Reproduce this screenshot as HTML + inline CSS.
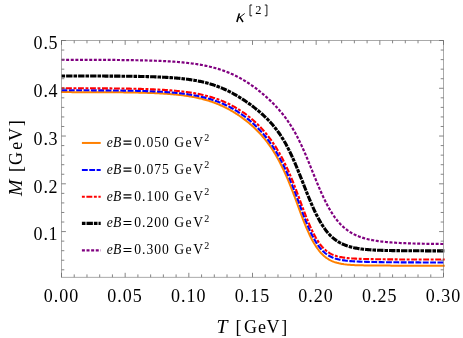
<!DOCTYPE html>
<html><head><meta charset="utf-8"><title>plot</title>
<style>
html,body{margin:0;padding:0;background:#fff;}
svg{display:block;will-change:transform;}
text{font-family:"Liberation Serif",serif;fill:#000;}
</style></head><body>
<svg width="463" height="338" viewBox="0 0 463 338">
<rect width="463" height="338" fill="#fff"/>
<clipPath id="c"><rect x="61.0" y="40.5" width="383.9" height="236.7"/></clipPath>
<g fill="none" clip-path="url(#c)">
<path d="M61.0,92.11 L62.0,92.11 L63.0,92.11 L64.0,92.12 L65.0,92.12 L66.0,92.12 L67.0,92.12 L68.0,92.12 L69.0,92.12 L70.0,92.12 L71.0,92.12 L72.0,92.13 L73.0,92.13 L74.0,92.13 L75.0,92.13 L76.0,92.13 L77.0,92.13 L78.0,92.13 L79.0,92.14 L80.0,92.14 L81.0,92.14 L82.0,92.14 L83.0,92.14 L84.0,92.15 L85.0,92.15 L86.0,92.15 L87.0,92.15 L88.0,92.16 L89.0,92.16 L90.0,92.16 L91.0,92.16 L92.0,92.17 L93.0,92.17 L94.0,92.17 L95.0,92.18 L96.0,92.18 L97.0,92.19 L98.0,92.19 L99.0,92.19 L100.0,92.20 L101.0,92.20 L102.0,92.21 L103.0,92.21 L104.0,92.22 L105.0,92.22 L106.0,92.23 L107.0,92.23 L108.0,92.24 L109.0,92.25 L110.0,92.25 L111.0,92.26 L112.0,92.27 L113.0,92.28 L114.0,92.28 L115.0,92.29 L116.0,92.30 L117.0,92.31 L118.0,92.32 L119.0,92.33 L120.0,92.34 L121.0,92.35 L122.0,92.36 L123.0,92.37 L124.0,92.38 L125.0,92.40 L126.0,92.41 L127.0,92.42 L128.0,92.44 L129.0,92.45 L130.0,92.47 L131.0,92.48 L132.0,92.50 L133.0,92.52 L134.0,92.54 L135.0,92.55 L136.0,92.57 L137.0,92.59 L138.0,92.62 L139.0,92.64 L140.0,92.66 L141.0,92.69 L142.0,92.71 L143.0,92.74 L144.0,92.77 L145.0,92.80 L146.0,92.83 L147.0,92.86 L148.0,92.89 L149.0,92.92 L150.0,92.96 L151.0,93.00 L152.0,93.03 L153.0,93.08 L154.0,93.12 L155.0,93.16 L156.0,93.21 L157.0,93.25 L158.0,93.30 L159.0,93.35 L160.0,93.41 L161.0,93.46 L162.0,93.52 L163.0,93.58 L164.0,93.64 L165.0,93.71 L166.0,93.77 L167.0,93.84 L168.0,93.91 L169.0,93.99 L170.0,94.06 L171.0,94.14 L172.0,94.22 L173.0,94.31 L174.0,94.40 L175.0,94.49 L176.0,94.59 L177.0,94.69 L178.0,94.79 L179.0,94.90 L180.0,95.01 L181.0,95.13 L182.0,95.25 L183.0,95.38 L184.0,95.51 L185.0,95.64 L186.0,95.79 L187.0,95.93 L188.0,96.08 L189.0,96.24 L190.0,96.41 L191.0,96.58 L192.0,96.75 L193.0,96.93 L194.0,97.12 L195.0,97.32 L196.0,97.52 L197.0,97.73 L198.0,97.95 L199.0,98.18 L200.0,98.41 L201.0,98.65 L202.0,98.90 L203.0,99.16 L204.0,99.43 L205.0,99.71 L206.0,99.99 L207.0,100.29 L208.0,100.59 L209.0,100.90 L210.0,101.23 L211.0,101.56 L212.0,101.90 L213.0,102.26 L214.0,102.62 L215.0,103.00 L216.0,103.38 L217.0,103.78 L218.0,104.19 L219.0,104.60 L220.0,105.03 L221.0,105.48 L222.0,105.93 L223.0,106.39 L224.0,106.87 L225.0,107.36 L226.0,107.86 L227.0,108.38 L228.0,108.90 L229.0,109.44 L230.0,109.99 L231.0,110.56 L232.0,111.13 L233.0,111.72 L234.0,112.32 L235.0,112.94 L236.0,113.57 L237.0,114.21 L238.0,114.87 L239.0,115.54 L240.0,116.22 L241.0,116.92 L242.0,117.64 L243.0,118.37 L244.0,119.11 L245.0,119.87 L246.0,120.65 L247.0,121.44 L248.0,122.25 L249.0,123.08 L250.0,123.93 L251.0,124.80 L252.0,125.68 L253.0,126.59 L254.0,127.52 L255.0,128.47 L256.0,129.44 L257.0,130.44 L258.0,131.46 L259.0,132.51 L260.0,133.58 L261.0,134.69 L262.0,135.82 L263.0,136.98 L264.0,138.17 L265.0,139.40 L266.0,140.66 L267.0,141.96 L268.0,143.29 L269.0,144.66 L270.0,146.07 L271.0,147.53 L272.0,149.02 L273.0,150.57 L274.0,152.15 L275.0,153.79 L276.0,155.48 L277.0,157.21 L278.0,159.00 L279.0,160.84 L280.0,162.74 L281.0,164.69 L282.0,166.70 L283.0,168.77 L284.0,170.89 L285.0,173.07 L286.0,175.31 L287.0,177.60 L288.0,179.95 L289.0,182.36 L290.0,184.82 L291.0,187.32 L292.0,189.88 L293.0,192.47 L294.0,195.10 L295.0,197.77 L296.0,200.46 L297.0,203.17 L298.0,205.89 L299.0,208.62 L300.0,211.34 L301.0,214.04 L302.0,216.69 L303.0,219.30 L304.0,221.85 L305.0,224.34 L306.0,226.77 L307.0,229.12 L308.0,231.41 L309.0,233.62 L310.0,235.73 L311.0,237.75 L312.0,239.66 L313.0,241.47 L314.0,243.20 L315.0,244.84 L316.0,246.40 L317.0,247.88 L318.0,249.28 L319.0,250.61 L320.0,251.84 L321.0,253.00 L322.0,254.07 L323.0,255.06 L324.0,255.97 L325.0,256.81 L326.0,257.58 L327.0,258.29 L328.0,258.95 L329.0,259.55 L330.0,260.11 L331.0,260.61 L332.0,261.07 L333.0,261.49 L334.0,261.87 L335.0,262.21 L336.0,262.52 L337.0,262.81 L338.0,263.07 L339.0,263.32 L340.0,263.54 L341.0,263.74 L342.0,263.93 L343.0,264.09 L344.0,264.25 L345.0,264.38 L346.0,264.51 L347.0,264.62 L348.0,264.71 L349.0,264.80 L350.0,264.87 L351.0,264.93 L352.0,264.99 L353.0,265.04 L354.0,265.09 L355.0,265.13 L356.0,265.17 L357.0,265.21 L358.0,265.24 L359.0,265.27 L360.0,265.30 L361.0,265.33 L362.0,265.35 L363.0,265.37 L364.0,265.39 L365.0,265.41 L366.0,265.43 L367.0,265.44 L368.0,265.46 L369.0,265.47 L370.0,265.48 L371.0,265.49 L372.0,265.51 L373.0,265.52 L374.0,265.53 L375.0,265.54 L376.0,265.54 L377.0,265.55 L378.0,265.56 L379.0,265.57 L380.0,265.57 L381.0,265.58 L382.0,265.58 L383.0,265.59 L384.0,265.60 L385.0,265.60 L386.0,265.61 L387.0,265.61 L388.0,265.61 L389.0,265.62 L390.0,265.62 L391.0,265.63 L392.0,265.63 L393.0,265.63 L394.0,265.64 L395.0,265.64 L396.0,265.64 L397.0,265.64 L398.0,265.65 L399.0,265.65 L400.0,265.65 L401.0,265.65 L402.0,265.66 L403.0,265.66 L404.0,265.66 L405.0,265.66 L406.0,265.67 L407.0,265.67 L408.0,265.67 L409.0,265.67 L410.0,265.67 L411.0,265.67 L412.0,265.68 L413.0,265.68 L414.0,265.68 L415.0,265.68 L416.0,265.68 L417.0,265.68 L418.0,265.68 L419.0,265.68 L420.0,265.68 L421.0,265.69 L422.0,265.69 L423.0,265.69 L424.0,265.69 L425.0,265.69 L426.0,265.69 L427.0,265.69 L428.0,265.69 L429.0,265.69 L430.0,265.69 L431.0,265.69 L432.0,265.69 L433.0,265.69 L434.0,265.69 L435.0,265.69 L436.0,265.70 L437.0,265.70 L438.0,265.70 L439.0,265.70 L440.0,265.70 L441.0,265.70 L442.0,265.70 L443.0,265.70 L444.0,265.70 L444.8,265.70" stroke="#ff8000" stroke-width="2.00"/>
<path d="M61.0,90.25 L62.0,90.25 L63.0,90.25 L64.0,90.25 L65.0,90.25 L66.0,90.25 L67.0,90.26 L68.0,90.26 L69.0,90.26 L70.0,90.26 L71.0,90.26 L72.0,90.27 L73.0,90.27 L74.0,90.27 L75.0,90.27 L76.0,90.27 L77.0,90.28 L78.0,90.28 L79.0,90.28 L80.0,90.28 L81.0,90.29 L82.0,90.29 L83.0,90.29 L84.0,90.30 L85.0,90.30 L86.0,90.30 L87.0,90.31 L88.0,90.31 L89.0,90.31 L90.0,90.32 L91.0,90.32 L92.0,90.33 L93.0,90.33 L94.0,90.34 L95.0,90.34 L96.0,90.34 L97.0,90.35 L98.0,90.36 L99.0,90.36 L100.0,90.37 L101.0,90.37 L102.0,90.38 L103.0,90.39 L104.0,90.39 L105.0,90.40 L106.0,90.41 L107.0,90.41 L108.0,90.42 L109.0,90.43 L110.0,90.44 L111.0,90.45 L112.0,90.46 L113.0,90.47 L114.0,90.47 L115.0,90.49 L116.0,90.50 L117.0,90.51 L118.0,90.52 L119.0,90.53 L120.0,90.54 L121.0,90.55 L122.0,90.57 L123.0,90.58 L124.0,90.60 L125.0,90.61 L126.0,90.63 L127.0,90.64 L128.0,90.66 L129.0,90.68 L130.0,90.69 L131.0,90.71 L132.0,90.73 L133.0,90.75 L134.0,90.77 L135.0,90.79 L136.0,90.82 L137.0,90.84 L138.0,90.86 L139.0,90.89 L140.0,90.92 L141.0,90.94 L142.0,90.97 L143.0,91.00 L144.0,91.03 L145.0,91.06 L146.0,91.10 L147.0,91.13 L148.0,91.16 L149.0,91.20 L150.0,91.24 L151.0,91.28 L152.0,91.32 L153.0,91.36 L154.0,91.41 L155.0,91.45 L156.0,91.50 L157.0,91.55 L158.0,91.60 L159.0,91.65 L160.0,91.71 L161.0,91.76 L162.0,91.82 L163.0,91.88 L164.0,91.95 L165.0,92.01 L166.0,92.08 L167.0,92.15 L168.0,92.22 L169.0,92.29 L170.0,92.37 L171.0,92.44 L172.0,92.53 L173.0,92.61 L174.0,92.70 L175.0,92.79 L176.0,92.88 L177.0,92.98 L178.0,93.08 L179.0,93.18 L180.0,93.29 L181.0,93.40 L182.0,93.52 L183.0,93.64 L184.0,93.76 L185.0,93.89 L186.0,94.02 L187.0,94.16 L188.0,94.30 L189.0,94.45 L190.0,94.60 L191.0,94.76 L192.0,94.92 L193.0,95.09 L194.0,95.27 L195.0,95.45 L196.0,95.64 L197.0,95.83 L198.0,96.03 L199.0,96.24 L200.0,96.46 L201.0,96.68 L202.0,96.91 L203.0,97.15 L204.0,97.39 L205.0,97.64 L206.0,97.90 L207.0,98.17 L208.0,98.45 L209.0,98.74 L210.0,99.03 L211.0,99.34 L212.0,99.65 L213.0,99.98 L214.0,100.31 L215.0,100.66 L216.0,101.01 L217.0,101.38 L218.0,101.76 L219.0,102.14 L220.0,102.54 L221.0,102.95 L222.0,103.37 L223.0,103.81 L224.0,104.25 L225.0,104.71 L226.0,105.18 L227.0,105.66 L228.0,106.16 L229.0,106.67 L230.0,107.19 L231.0,107.73 L232.0,108.27 L233.0,108.84 L234.0,109.42 L235.0,110.01 L236.0,110.61 L237.0,111.23 L238.0,111.87 L239.0,112.52 L240.0,113.18 L241.0,113.87 L242.0,114.56 L243.0,115.28 L244.0,116.01 L245.0,116.76 L246.0,117.52 L247.0,118.30 L248.0,119.11 L249.0,119.93 L250.0,120.76 L251.0,121.62 L252.0,122.50 L253.0,123.40 L254.0,124.32 L255.0,125.26 L256.0,126.23 L257.0,127.21 L258.0,128.23 L259.0,129.26 L260.0,130.32 L261.0,131.41 L262.0,132.52 L263.0,133.67 L264.0,134.84 L265.0,136.04 L266.0,137.28 L267.0,138.54 L268.0,139.84 L269.0,141.18 L270.0,142.55 L271.0,143.96 L272.0,145.40 L273.0,146.89 L274.0,148.42 L275.0,149.99 L276.0,151.61 L277.0,153.27 L278.0,154.98 L279.0,156.74 L280.0,158.55 L281.0,160.42 L282.0,162.33 L283.0,164.30 L284.0,166.33 L285.0,168.41 L286.0,170.55 L287.0,172.74 L288.0,174.99 L289.0,177.30 L290.0,179.66 L291.0,182.08 L292.0,184.55 L293.0,187.07 L294.0,189.63 L295.0,192.24 L296.0,194.88 L297.0,197.56 L298.0,200.26 L299.0,202.97 L300.0,205.70 L301.0,208.42 L302.0,211.11 L303.0,213.76 L304.0,216.37 L305.0,218.94 L306.0,221.45 L307.0,223.90 L308.0,226.28 L309.0,228.59 L310.0,230.81 L311.0,232.93 L312.0,234.95 L313.0,236.87 L314.0,238.69 L315.0,240.42 L316.0,242.07 L317.0,243.63 L318.0,245.11 L319.0,246.50 L320.0,247.80 L321.0,249.00 L322.0,250.12 L323.0,251.15 L324.0,252.09 L325.0,252.95 L326.0,253.74 L327.0,254.46 L328.0,255.13 L329.0,255.74 L330.0,256.30 L331.0,256.81 L332.0,257.27 L333.0,257.68 L334.0,258.06 L335.0,258.40 L336.0,258.71 L337.0,258.99 L338.0,259.25 L339.0,259.49 L340.0,259.71 L341.0,259.91 L342.0,260.09 L343.0,260.26 L344.0,260.41 L345.0,260.55 L346.0,260.68 L347.0,260.80 L348.0,260.90 L349.0,261.00 L350.0,261.08 L351.0,261.16 L352.0,261.23 L353.0,261.29 L354.0,261.35 L355.0,261.41 L356.0,261.46 L357.0,261.51 L358.0,261.56 L359.0,261.60 L360.0,261.65 L361.0,261.68 L362.0,261.72 L363.0,261.75 L364.0,261.79 L365.0,261.82 L366.0,261.85 L367.0,261.87 L368.0,261.90 L369.0,261.93 L370.0,261.95 L371.0,261.97 L372.0,261.99 L373.0,262.01 L374.0,262.03 L375.0,262.05 L376.0,262.07 L377.0,262.09 L378.0,262.10 L379.0,262.12 L380.0,262.13 L381.0,262.15 L382.0,262.16 L383.0,262.18 L384.0,262.19 L385.0,262.20 L386.0,262.21 L387.0,262.22 L388.0,262.23 L389.0,262.24 L390.0,262.25 L391.0,262.26 L392.0,262.27 L393.0,262.28 L394.0,262.29 L395.0,262.30 L396.0,262.31 L397.0,262.31 L398.0,262.32 L399.0,262.33 L400.0,262.33 L401.0,262.34 L402.0,262.35 L403.0,262.35 L404.0,262.36 L405.0,262.36 L406.0,262.37 L407.0,262.37 L408.0,262.38 L409.0,262.38 L410.0,262.39 L411.0,262.39 L412.0,262.40 L413.0,262.40 L414.0,262.41 L415.0,262.41 L416.0,262.41 L417.0,262.42 L418.0,262.42 L419.0,262.42 L420.0,262.43 L421.0,262.43 L422.0,262.43 L423.0,262.43 L424.0,262.44 L425.0,262.44 L426.0,262.44 L427.0,262.44 L428.0,262.45 L429.0,262.45 L430.0,262.45 L431.0,262.45 L432.0,262.46 L433.0,262.46 L434.0,262.46 L435.0,262.46 L436.0,262.46 L437.0,262.46 L438.0,262.47 L439.0,262.47 L440.0,262.47 L441.0,262.47 L442.0,262.47 L443.0,262.47 L444.0,262.47 L444.8,262.48" stroke="#0000ff" stroke-width="2.10" stroke-dasharray="5.85 1.5" stroke-dashoffset="6.85"/>
<path d="M61.0,88.22 L62.0,88.22 L63.0,88.22 L64.0,88.22 L65.0,88.22 L66.0,88.23 L67.0,88.23 L68.0,88.23 L69.0,88.23 L70.0,88.23 L71.0,88.23 L72.0,88.24 L73.0,88.24 L74.0,88.24 L75.0,88.24 L76.0,88.25 L77.0,88.25 L78.0,88.25 L79.0,88.25 L80.0,88.26 L81.0,88.26 L82.0,88.26 L83.0,88.26 L84.0,88.27 L85.0,88.27 L86.0,88.27 L87.0,88.28 L88.0,88.28 L89.0,88.29 L90.0,88.29 L91.0,88.29 L92.0,88.30 L93.0,88.30 L94.0,88.31 L95.0,88.31 L96.0,88.32 L97.0,88.32 L98.0,88.33 L99.0,88.33 L100.0,88.34 L101.0,88.35 L102.0,88.35 L103.0,88.36 L104.0,88.37 L105.0,88.37 L106.0,88.38 L107.0,88.39 L108.0,88.39 L109.0,88.40 L110.0,88.41 L111.0,88.42 L112.0,88.43 L113.0,88.44 L114.0,88.45 L115.0,88.46 L116.0,88.47 L117.0,88.48 L118.0,88.49 L119.0,88.50 L120.0,88.52 L121.0,88.53 L122.0,88.54 L123.0,88.56 L124.0,88.57 L125.0,88.59 L126.0,88.60 L127.0,88.62 L128.0,88.63 L129.0,88.65 L130.0,88.67 L131.0,88.69 L132.0,88.71 L133.0,88.73 L134.0,88.75 L135.0,88.77 L136.0,88.79 L137.0,88.82 L138.0,88.84 L139.0,88.87 L140.0,88.89 L141.0,88.92 L142.0,88.95 L143.0,88.98 L144.0,89.01 L145.0,89.04 L146.0,89.07 L147.0,89.11 L148.0,89.14 L149.0,89.18 L150.0,89.22 L151.0,89.25 L152.0,89.30 L153.0,89.34 L154.0,89.38 L155.0,89.43 L156.0,89.47 L157.0,89.52 L158.0,89.57 L159.0,89.63 L160.0,89.68 L161.0,89.74 L162.0,89.79 L163.0,89.85 L164.0,89.92 L165.0,89.98 L166.0,90.04 L167.0,90.11 L168.0,90.18 L169.0,90.25 L170.0,90.33 L171.0,90.40 L172.0,90.48 L173.0,90.56 L174.0,90.65 L175.0,90.73 L176.0,90.82 L177.0,90.92 L178.0,91.02 L179.0,91.12 L180.0,91.22 L181.0,91.33 L182.0,91.44 L183.0,91.55 L184.0,91.67 L185.0,91.80 L186.0,91.92 L187.0,92.06 L188.0,92.19 L189.0,92.33 L190.0,92.48 L191.0,92.63 L192.0,92.79 L193.0,92.95 L194.0,93.12 L195.0,93.30 L196.0,93.48 L197.0,93.66 L198.0,93.86 L199.0,94.05 L200.0,94.26 L201.0,94.47 L202.0,94.69 L203.0,94.92 L204.0,95.16 L205.0,95.40 L206.0,95.65 L207.0,95.91 L208.0,96.17 L209.0,96.45 L210.0,96.73 L211.0,97.02 L212.0,97.33 L213.0,97.64 L214.0,97.96 L215.0,98.29 L216.0,98.63 L217.0,98.97 L218.0,99.33 L219.0,99.71 L220.0,100.09 L221.0,100.48 L222.0,100.88 L223.0,101.30 L224.0,101.72 L225.0,102.16 L226.0,102.61 L227.0,103.07 L228.0,103.55 L229.0,104.03 L230.0,104.53 L231.0,105.05 L232.0,105.57 L233.0,106.11 L234.0,106.66 L235.0,107.23 L236.0,107.81 L237.0,108.40 L238.0,109.01 L239.0,109.63 L240.0,110.27 L241.0,110.92 L242.0,111.59 L243.0,112.27 L244.0,112.98 L245.0,113.69 L246.0,114.43 L247.0,115.18 L248.0,115.95 L249.0,116.73 L250.0,117.54 L251.0,118.36 L252.0,119.21 L253.0,120.07 L254.0,120.96 L255.0,121.87 L256.0,122.80 L257.0,123.75 L258.0,124.73 L259.0,125.73 L260.0,126.75 L261.0,127.80 L262.0,128.88 L263.0,129.99 L264.0,131.12 L265.0,132.29 L266.0,133.48 L267.0,134.71 L268.0,135.97 L269.0,137.27 L270.0,138.60 L271.0,139.96 L272.0,141.37 L273.0,142.81 L274.0,144.30 L275.0,145.83 L276.0,147.40 L277.0,149.02 L278.0,150.68 L279.0,152.39 L280.0,154.15 L281.0,155.97 L282.0,157.83 L283.0,159.75 L284.0,161.72 L285.0,163.74 L286.0,165.82 L287.0,167.96 L288.0,170.15 L289.0,172.40 L290.0,174.71 L291.0,177.07 L292.0,179.49 L293.0,181.95 L294.0,184.47 L295.0,187.03 L296.0,189.63 L297.0,192.27 L298.0,194.95 L299.0,197.65 L300.0,200.37 L301.0,203.08 L302.0,205.78 L303.0,208.46 L304.0,211.10 L305.0,213.71 L306.0,216.28 L307.0,218.80 L308.0,221.27 L309.0,223.67 L310.0,225.99 L311.0,228.22 L312.0,230.35 L313.0,232.38 L314.0,234.32 L315.0,236.17 L316.0,237.94 L317.0,239.62 L318.0,241.21 L319.0,242.70 L320.0,244.10 L321.0,245.40 L322.0,246.61 L323.0,247.72 L324.0,248.73 L325.0,249.66 L326.0,250.52 L327.0,251.31 L328.0,252.03 L329.0,252.70 L330.0,253.30 L331.0,253.85 L332.0,254.35 L333.0,254.79 L334.0,255.19 L335.0,255.55 L336.0,255.88 L337.0,256.18 L338.0,256.45 L339.0,256.70 L340.0,256.93 L341.0,257.14 L342.0,257.33 L343.0,257.50 L344.0,257.65 L345.0,257.79 L346.0,257.92 L347.0,258.04 L348.0,258.14 L349.0,258.23 L350.0,258.31 L351.0,258.38 L352.0,258.45 L353.0,258.51 L354.0,258.57 L355.0,258.62 L356.0,258.67 L357.0,258.71 L358.0,258.76 L359.0,258.80 L360.0,258.83 L361.0,258.87 L362.0,258.90 L363.0,258.93 L364.0,258.96 L365.0,258.99 L366.0,259.01 L367.0,259.03 L368.0,259.06 L369.0,259.08 L370.0,259.10 L371.0,259.12 L372.0,259.14 L373.0,259.16 L374.0,259.17 L375.0,259.19 L376.0,259.20 L377.0,259.22 L378.0,259.23 L379.0,259.25 L380.0,259.26 L381.0,259.27 L382.0,259.28 L383.0,259.29 L384.0,259.30 L385.0,259.32 L386.0,259.33 L387.0,259.34 L388.0,259.34 L389.0,259.35 L390.0,259.36 L391.0,259.37 L392.0,259.38 L393.0,259.39 L394.0,259.39 L395.0,259.40 L396.0,259.41 L397.0,259.41 L398.0,259.42 L399.0,259.43 L400.0,259.43 L401.0,259.44 L402.0,259.44 L403.0,259.45 L404.0,259.45 L405.0,259.46 L406.0,259.46 L407.0,259.47 L408.0,259.47 L409.0,259.48 L410.0,259.48 L411.0,259.48 L412.0,259.49 L413.0,259.49 L414.0,259.49 L415.0,259.50 L416.0,259.50 L417.0,259.50 L418.0,259.51 L419.0,259.51 L420.0,259.51 L421.0,259.52 L422.0,259.52 L423.0,259.52 L424.0,259.52 L425.0,259.52 L426.0,259.53 L427.0,259.53 L428.0,259.53 L429.0,259.53 L430.0,259.53 L431.0,259.54 L432.0,259.54 L433.0,259.54 L434.0,259.54 L435.0,259.54 L436.0,259.54 L437.0,259.55 L438.0,259.55 L439.0,259.55 L440.0,259.55 L441.0,259.55 L442.0,259.55 L443.0,259.55 L444.0,259.55 L444.8,259.55" stroke="#ff0000" stroke-width="2.10" stroke-dasharray="2.9 1.6 5.9 1.6" stroke-dashoffset="11.50"/>
<path d="M61.0,75.99 L62.0,75.99 L63.0,75.99 L64.0,75.99 L65.0,75.99 L66.0,75.99 L67.0,75.99 L68.0,76.00 L69.0,76.00 L70.0,76.00 L71.0,76.00 L72.0,76.00 L73.0,76.00 L74.0,76.00 L75.0,76.00 L76.0,76.00 L77.0,76.01 L78.0,76.01 L79.0,76.01 L80.0,76.01 L81.0,76.01 L82.0,76.01 L83.0,76.01 L84.0,76.02 L85.0,76.02 L86.0,76.02 L87.0,76.02 L88.0,76.02 L89.0,76.03 L90.0,76.03 L91.0,76.03 L92.0,76.03 L93.0,76.04 L94.0,76.04 L95.0,76.04 L96.0,76.04 L97.0,76.05 L98.0,76.05 L99.0,76.05 L100.0,76.06 L101.0,76.06 L102.0,76.07 L103.0,76.07 L104.0,76.07 L105.0,76.08 L106.0,76.08 L107.0,76.09 L108.0,76.09 L109.0,76.10 L110.0,76.10 L111.0,76.11 L112.0,76.11 L113.0,76.12 L114.0,76.13 L115.0,76.13 L116.0,76.14 L117.0,76.15 L118.0,76.16 L119.0,76.16 L120.0,76.17 L121.0,76.18 L122.0,76.19 L123.0,76.20 L124.0,76.21 L125.0,76.22 L126.0,76.23 L127.0,76.24 L128.0,76.25 L129.0,76.26 L130.0,76.28 L131.0,76.29 L132.0,76.30 L133.0,76.32 L134.0,76.33 L135.0,76.35 L136.0,76.36 L137.0,76.38 L138.0,76.40 L139.0,76.42 L140.0,76.44 L141.0,76.46 L142.0,76.48 L143.0,76.50 L144.0,76.52 L145.0,76.55 L146.0,76.57 L147.0,76.60 L148.0,76.62 L149.0,76.65 L150.0,76.68 L151.0,76.71 L152.0,76.74 L153.0,76.78 L154.0,76.81 L155.0,76.85 L156.0,76.89 L157.0,76.92 L158.0,76.97 L159.0,77.01 L160.0,77.05 L161.0,77.10 L162.0,77.15 L163.0,77.20 L164.0,77.25 L165.0,77.30 L166.0,77.36 L167.0,77.41 L168.0,77.47 L169.0,77.54 L170.0,77.60 L171.0,77.67 L172.0,77.74 L173.0,77.81 L174.0,77.89 L175.0,77.97 L176.0,78.05 L177.0,78.13 L178.0,78.22 L179.0,78.32 L180.0,78.41 L181.0,78.51 L182.0,78.62 L183.0,78.72 L184.0,78.84 L185.0,78.95 L186.0,79.08 L187.0,79.20 L188.0,79.33 L189.0,79.47 L190.0,79.61 L191.0,79.76 L192.0,79.92 L193.0,80.07 L194.0,80.24 L195.0,80.41 L196.0,80.59 L197.0,80.78 L198.0,80.97 L199.0,81.17 L200.0,81.37 L201.0,81.59 L202.0,81.81 L203.0,82.04 L204.0,82.28 L205.0,82.52 L206.0,82.78 L207.0,83.04 L208.0,83.31 L209.0,83.59 L210.0,83.89 L211.0,84.19 L212.0,84.50 L213.0,84.82 L214.0,85.15 L215.0,85.49 L216.0,85.84 L217.0,86.20 L218.0,86.57 L219.0,86.95 L220.0,87.35 L221.0,87.75 L222.0,88.17 L223.0,88.59 L224.0,89.03 L225.0,89.48 L226.0,89.94 L227.0,90.41 L228.0,90.90 L229.0,91.39 L230.0,91.90 L231.0,92.42 L232.0,92.95 L233.0,93.49 L234.0,94.04 L235.0,94.60 L236.0,95.18 L237.0,95.76 L238.0,96.36 L239.0,96.97 L240.0,97.58 L241.0,98.21 L242.0,98.85 L243.0,99.50 L244.0,100.16 L245.0,100.83 L246.0,101.51 L247.0,102.20 L248.0,102.91 L249.0,103.62 L250.0,104.34 L251.0,105.08 L252.0,105.83 L253.0,106.58 L254.0,107.36 L255.0,108.14 L256.0,108.93 L257.0,109.74 L258.0,110.56 L259.0,111.40 L260.0,112.25 L261.0,113.12 L262.0,114.00 L263.0,114.91 L264.0,115.83 L265.0,116.77 L266.0,117.73 L267.0,118.72 L268.0,119.73 L269.0,120.77 L270.0,121.84 L271.0,122.93 L272.0,124.06 L273.0,125.22 L274.0,126.42 L275.0,127.65 L276.0,128.93 L277.0,130.25 L278.0,131.61 L279.0,133.02 L280.0,134.48 L281.0,135.99 L282.0,137.55 L283.0,139.17 L284.0,140.84 L285.0,142.57 L286.0,144.36 L287.0,146.21 L288.0,148.12 L289.0,150.09 L290.0,152.12 L291.0,154.21 L292.0,156.36 L293.0,158.57 L294.0,160.83 L295.0,163.14 L296.0,165.49 L297.0,167.90 L298.0,170.34 L299.0,172.81 L300.0,175.31 L301.0,177.83 L302.0,180.37 L303.0,182.92 L304.0,185.47 L305.0,188.02 L306.0,190.55 L307.0,193.07 L308.0,195.55 L309.0,198.01 L310.0,200.43 L311.0,202.80 L312.0,205.12 L313.0,207.38 L314.0,209.59 L315.0,211.73 L316.0,213.80 L317.0,215.80 L318.0,217.73 L319.0,219.59 L320.0,221.37 L321.0,223.07 L322.0,224.70 L323.0,226.25 L324.0,227.73 L325.0,229.13 L326.0,230.46 L327.0,231.73 L328.0,232.92 L329.0,234.05 L330.0,235.11 L331.0,236.11 L332.0,237.05 L333.0,237.93 L334.0,238.77 L335.0,239.54 L336.0,240.28 L337.0,240.96 L338.0,241.60 L339.0,242.20 L340.0,242.76 L341.0,243.28 L342.0,243.77 L343.0,244.23 L344.0,244.66 L345.0,245.07 L346.0,245.44 L347.0,245.80 L348.0,246.13 L349.0,246.44 L350.0,246.73 L351.0,247.00 L352.0,247.25 L353.0,247.49 L354.0,247.72 L355.0,247.92 L356.0,248.12 L357.0,248.30 L358.0,248.47 L359.0,248.63 L360.0,248.78 L361.0,248.92 L362.0,249.05 L363.0,249.17 L364.0,249.28 L365.0,249.39 L366.0,249.49 L367.0,249.58 L368.0,249.66 L369.0,249.74 L370.0,249.81 L371.0,249.87 L372.0,249.93 L373.0,249.99 L374.0,250.04 L375.0,250.09 L376.0,250.13 L377.0,250.18 L378.0,250.22 L379.0,250.26 L380.0,250.29 L381.0,250.32 L382.0,250.36 L383.0,250.38 L384.0,250.41 L385.0,250.44 L386.0,250.46 L387.0,250.48 L388.0,250.51 L389.0,250.53 L390.0,250.55 L391.0,250.56 L392.0,250.58 L393.0,250.60 L394.0,250.61 L395.0,250.62 L396.0,250.64 L397.0,250.65 L398.0,250.66 L399.0,250.67 L400.0,250.68 L401.0,250.69 L402.0,250.70 L403.0,250.71 L404.0,250.72 L405.0,250.73 L406.0,250.74 L407.0,250.74 L408.0,250.75 L409.0,250.76 L410.0,250.76 L411.0,250.77 L412.0,250.77 L413.0,250.78 L414.0,250.78 L415.0,250.79 L416.0,250.79 L417.0,250.80 L418.0,250.80 L419.0,250.81 L420.0,250.81 L421.0,250.81 L422.0,250.82 L423.0,250.82 L424.0,250.82 L425.0,250.83 L426.0,250.83 L427.0,250.83 L428.0,250.83 L429.0,250.84 L430.0,250.84 L431.0,250.84 L432.0,250.84 L433.0,250.84 L434.0,250.85 L435.0,250.85 L436.0,250.85 L437.0,250.85 L438.0,250.85 L439.0,250.85 L440.0,250.85 L441.0,250.85 L442.0,250.86 L443.0,250.86 L444.0,250.86 L444.8,250.86" stroke="#000000" stroke-width="3.10" stroke-dasharray="3.6 1.0 6.4 1.0" stroke-dashoffset="11.50"/>
<path d="M61.0,59.77 L62.0,59.77 L63.0,59.77 L64.0,59.77 L65.0,59.77 L66.0,59.78 L67.0,59.78 L68.0,59.78 L69.0,59.78 L70.0,59.78 L71.0,59.78 L72.0,59.78 L73.0,59.79 L74.0,59.79 L75.0,59.79 L76.0,59.79 L77.0,59.79 L78.0,59.80 L79.0,59.80 L80.0,59.80 L81.0,59.80 L82.0,59.81 L83.0,59.81 L84.0,59.81 L85.0,59.81 L86.0,59.82 L87.0,59.82 L88.0,59.82 L89.0,59.83 L90.0,59.83 L91.0,59.83 L92.0,59.84 L93.0,59.84 L94.0,59.84 L95.0,59.85 L96.0,59.85 L97.0,59.86 L98.0,59.86 L99.0,59.87 L100.0,59.87 L101.0,59.87 L102.0,59.88 L103.0,59.89 L104.0,59.89 L105.0,59.90 L106.0,59.90 L107.0,59.91 L108.0,59.92 L109.0,59.92 L110.0,59.93 L111.0,59.94 L112.0,59.94 L113.0,59.95 L114.0,59.96 L115.0,59.97 L116.0,59.98 L117.0,59.98 L118.0,59.99 L119.0,60.00 L120.0,60.01 L121.0,60.02 L122.0,60.03 L123.0,60.05 L124.0,60.06 L125.0,60.07 L126.0,60.08 L127.0,60.09 L128.0,60.11 L129.0,60.12 L130.0,60.13 L131.0,60.15 L132.0,60.16 L133.0,60.18 L134.0,60.20 L135.0,60.21 L136.0,60.23 L137.0,60.25 L138.0,60.27 L139.0,60.29 L140.0,60.31 L141.0,60.33 L142.0,60.35 L143.0,60.38 L144.0,60.40 L145.0,60.42 L146.0,60.45 L147.0,60.48 L148.0,60.50 L149.0,60.53 L150.0,60.56 L151.0,60.59 L152.0,60.62 L153.0,60.66 L154.0,60.69 L155.0,60.73 L156.0,60.76 L157.0,60.80 L158.0,60.84 L159.0,60.88 L160.0,60.92 L161.0,60.97 L162.0,61.01 L163.0,61.06 L164.0,61.11 L165.0,61.16 L166.0,61.21 L167.0,61.26 L168.0,61.32 L169.0,61.38 L170.0,61.44 L171.0,61.50 L172.0,61.57 L173.0,61.63 L174.0,61.70 L175.0,61.77 L176.0,61.85 L177.0,61.93 L178.0,62.01 L179.0,62.09 L180.0,62.17 L181.0,62.26 L182.0,62.36 L183.0,62.45 L184.0,62.55 L185.0,62.65 L186.0,62.76 L187.0,62.87 L188.0,62.98 L189.0,63.10 L190.0,63.22 L191.0,63.34 L192.0,63.47 L193.0,63.60 L194.0,63.74 L195.0,63.89 L196.0,64.03 L197.0,64.19 L198.0,64.35 L199.0,64.51 L200.0,64.68 L201.0,64.85 L202.0,65.03 L203.0,65.22 L204.0,65.41 L205.0,65.61 L206.0,65.82 L207.0,66.03 L208.0,66.25 L209.0,66.48 L210.0,66.71 L211.0,66.95 L212.0,67.20 L213.0,67.46 L214.0,67.72 L215.0,67.99 L216.0,68.28 L217.0,68.56 L218.0,68.86 L219.0,69.17 L220.0,69.49 L221.0,69.81 L222.0,70.15 L223.0,70.50 L224.0,70.85 L225.0,71.22 L226.0,71.59 L227.0,71.98 L228.0,72.38 L229.0,72.79 L230.0,73.21 L231.0,73.64 L232.0,74.08 L233.0,74.53 L234.0,75.00 L235.0,75.48 L236.0,75.97 L237.0,76.47 L238.0,76.98 L239.0,77.51 L240.0,78.05 L241.0,78.60 L242.0,79.17 L243.0,79.74 L244.0,80.33 L245.0,80.94 L246.0,81.55 L247.0,82.18 L248.0,82.83 L249.0,83.48 L250.0,84.15 L251.0,84.83 L252.0,85.53 L253.0,86.24 L254.0,86.96 L255.0,87.70 L256.0,88.45 L257.0,89.21 L258.0,89.99 L259.0,90.78 L260.0,91.58 L261.0,92.40 L262.0,93.23 L263.0,94.07 L264.0,94.93 L265.0,95.80 L266.0,96.69 L267.0,97.59 L268.0,98.51 L269.0,99.44 L270.0,100.39 L271.0,101.35 L272.0,102.33 L273.0,103.33 L274.0,104.35 L275.0,105.39 L276.0,106.44 L277.0,107.52 L278.0,108.63 L279.0,109.75 L280.0,110.91 L281.0,112.09 L282.0,113.29 L283.0,114.53 L284.0,115.81 L285.0,117.11 L286.0,118.46 L287.0,119.84 L288.0,121.27 L289.0,122.73 L290.0,124.25 L291.0,125.81 L292.0,127.42 L293.0,129.08 L294.0,130.79 L295.0,132.56 L296.0,134.39 L297.0,136.27 L298.0,138.21 L299.0,140.20 L300.0,142.25 L301.0,144.36 L302.0,146.52 L303.0,148.73 L304.0,150.99 L305.0,153.29 L306.0,155.64 L307.0,158.02 L308.0,160.44 L309.0,162.88 L310.0,165.34 L311.0,167.82 L312.0,170.30 L313.0,172.79 L314.0,175.27 L315.0,177.74 L316.0,180.20 L317.0,182.63 L318.0,185.03 L319.0,187.40 L320.0,189.72 L321.0,192.00 L322.0,194.23 L323.0,196.41 L324.0,198.53 L325.0,200.59 L326.0,202.58 L327.0,204.52 L328.0,206.38 L329.0,208.18 L330.0,209.92 L331.0,211.58 L332.0,213.18 L333.0,214.71 L334.0,216.18 L335.0,217.58 L336.0,218.91 L337.0,220.19 L338.0,221.40 L339.0,222.56 L340.0,223.66 L341.0,224.71 L342.0,225.70 L343.0,226.65 L344.0,227.54 L345.0,228.39 L346.0,229.19 L347.0,229.96 L348.0,230.68 L349.0,231.36 L350.0,232.01 L351.0,232.62 L352.0,233.21 L353.0,233.76 L354.0,234.28 L355.0,234.77 L356.0,235.23 L357.0,235.68 L358.0,236.09 L359.0,236.49 L360.0,236.86 L361.0,237.22 L362.0,237.55 L363.0,237.87 L364.0,238.17 L365.0,238.46 L366.0,238.73 L367.0,238.98 L368.0,239.23 L369.0,239.46 L370.0,239.68 L371.0,239.88 L372.0,240.08 L373.0,240.27 L374.0,240.45 L375.0,240.61 L376.0,240.78 L377.0,240.93 L378.0,241.07 L379.0,241.21 L380.0,241.34 L381.0,241.47 L382.0,241.59 L383.0,241.70 L384.0,241.81 L385.0,241.91 L386.0,242.01 L387.0,242.10 L388.0,242.19 L389.0,242.28 L390.0,242.36 L391.0,242.44 L392.0,242.51 L393.0,242.58 L394.0,242.65 L395.0,242.71 L396.0,242.77 L397.0,242.83 L398.0,242.89 L399.0,242.94 L400.0,242.99 L401.0,243.04 L402.0,243.09 L403.0,243.14 L404.0,243.18 L405.0,243.22 L406.0,243.26 L407.0,243.30 L408.0,243.34 L409.0,243.37 L410.0,243.40 L411.0,243.44 L412.0,243.47 L413.0,243.50 L414.0,243.52 L415.0,243.55 L416.0,243.58 L417.0,243.60 L418.0,243.63 L419.0,243.65 L420.0,243.67 L421.0,243.69 L422.0,243.71 L423.0,243.73 L424.0,243.75 L425.0,243.77 L426.0,243.79 L427.0,243.81 L428.0,243.82 L429.0,243.84 L430.0,243.85 L431.0,243.87 L432.0,243.88 L433.0,243.89 L434.0,243.91 L435.0,243.92 L436.0,243.93 L437.0,243.94 L438.0,243.95 L439.0,243.96 L440.0,243.97 L441.0,243.98 L442.0,243.99 L443.0,244.00 L444.0,244.01 L444.8,244.02" stroke="#800080" stroke-width="2.20" stroke-dasharray="3.0 1.62" stroke-dashoffset="4.12"/>
</g>
<g stroke="#666666" stroke-width="0.55" fill="none">
<rect x="61.5" y="40.5" width="382.0" height="236.7"/>
<path d="M61.50,277.2v-4.4M61.50,40.5v4.4M74.23,277.2v-2.8M74.23,40.5v2.8M86.97,277.2v-2.8M86.97,40.5v2.8M99.70,277.2v-2.8M99.70,40.5v2.8M112.43,277.2v-2.8M112.43,40.5v2.8M125.17,277.2v-4.4M125.17,40.5v4.4M137.90,277.2v-2.8M137.90,40.5v2.8M150.63,277.2v-2.8M150.63,40.5v2.8M163.37,277.2v-2.8M163.37,40.5v2.8M176.10,277.2v-2.8M176.10,40.5v2.8M188.83,277.2v-4.4M188.83,40.5v4.4M201.57,277.2v-2.8M201.57,40.5v2.8M214.30,277.2v-2.8M214.30,40.5v2.8M227.03,277.2v-2.8M227.03,40.5v2.8M239.77,277.2v-2.8M239.77,40.5v2.8M252.50,277.2v-4.4M252.50,40.5v4.4M265.23,277.2v-2.8M265.23,40.5v2.8M277.97,277.2v-2.8M277.97,40.5v2.8M290.70,277.2v-2.8M290.70,40.5v2.8M303.43,277.2v-2.8M303.43,40.5v2.8M316.17,277.2v-4.4M316.17,40.5v4.4M328.90,277.2v-2.8M328.90,40.5v2.8M341.63,277.2v-2.8M341.63,40.5v2.8M354.37,277.2v-2.8M354.37,40.5v2.8M367.10,277.2v-2.8M367.10,40.5v2.8M379.83,277.2v-4.4M379.83,40.5v4.4M392.57,277.2v-2.8M392.57,40.5v2.8M405.30,277.2v-2.8M405.30,40.5v2.8M418.03,277.2v-2.8M418.03,40.5v2.8M430.77,277.2v-2.8M430.77,40.5v2.8M443.50,277.2v-4.4M443.50,40.5v4.4M61.5,269.80h2.8M443.5,269.80h-2.8M61.5,260.24h2.8M443.5,260.24h-2.8M61.5,250.69h2.8M443.5,250.69h-2.8M61.5,241.13h2.8M443.5,241.13h-2.8M61.5,231.58h4.4M443.5,231.58h-4.4M61.5,222.03h2.8M443.5,222.03h-2.8M61.5,212.47h2.8M443.5,212.47h-2.8M61.5,202.92h2.8M443.5,202.92h-2.8M61.5,193.36h2.8M443.5,193.36h-2.8M61.5,183.81h4.4M443.5,183.81h-4.4M61.5,174.26h2.8M443.5,174.26h-2.8M61.5,164.70h2.8M443.5,164.70h-2.8M61.5,155.15h2.8M443.5,155.15h-2.8M61.5,145.59h2.8M443.5,145.59h-2.8M61.5,136.04h4.4M443.5,136.04h-4.4M61.5,126.49h2.8M443.5,126.49h-2.8M61.5,116.93h2.8M443.5,116.93h-2.8M61.5,107.38h2.8M443.5,107.38h-2.8M61.5,97.82h2.8M443.5,97.82h-2.8M61.5,88.27h4.4M443.5,88.27h-4.4M61.5,78.72h2.8M443.5,78.72h-2.8M61.5,69.16h2.8M443.5,69.16h-2.8M61.5,59.61h2.8M443.5,59.61h-2.8M61.5,50.05h2.8M443.5,50.05h-2.8M61.5,40.50h4.4M443.5,40.50h-4.4" stroke-width="0.8"/>
</g>
<g font-size="18px" letter-spacing="1">
<text x="61.4" y="301.6" text-anchor="middle">0.00</text>
<text x="125.1" y="301.6" text-anchor="middle">0.05</text>
<text x="188.7" y="301.6" text-anchor="middle">0.10</text>
<text x="252.4" y="301.6" text-anchor="middle">0.15</text>
<text x="316.1" y="301.6" text-anchor="middle">0.20</text>
<text x="379.7" y="301.6" text-anchor="middle">0.25</text>
<text x="443.4" y="301.6" text-anchor="middle">0.30</text>
<text x="33.6 43.4 48.6" y="240.3" letter-spacing="0">0.1</text>
<text x="33.6 43.4 48.6" y="192.5" letter-spacing="0">0.2</text>
<text x="33.6 43.4 48.6" y="144.7" letter-spacing="0">0.3</text>
<text x="33.6 43.4 48.6" y="97.0" letter-spacing="0">0.4</text>
<text x="33.6 43.4 48.6" y="49.2" letter-spacing="0">0.5</text>
</g>
<text transform="translate(216.5,332.9) scale(1.1,1)" font-size="18px" font-style="italic">T</text>
<text x="235.5 243.9 258.1 266.5 281.2" y="332.9" font-size="18px">[GeV]</text>
<text transform="translate(22.0,195.9) rotate(-90) scale(1.1,1)" x="0" font-size="18px" font-style="italic">M</text>
<text transform="translate(22.0,195.6) rotate(-90)" x="23.7 30.7 45.9 54.6 69.3" font-size="18px">[GeV]</text>
<g stroke="#000" fill="none" stroke-linecap="butt">
<path d="M236.9,22.0L239.4,13.4" stroke-width="1.6"/>
<path d="M238.8,18.0L244.7,13.5" stroke-width="0.9"/>
<path d="M239.7,16.9L243.0,22.0" stroke-width="1.5"/>
<path d="M252.1,5.0H250.0V15.8H252.1M264.8,5.0H266.9V15.8H264.8" stroke-width="0.9"/>
</g>
<text x="255.2" y="13.9" font-size="12.4px">2</text>
<g fill="none">
<path d="M81.9,142.95H100.7" stroke="#ff8000" stroke-width="2.00"/>
<path d="M81.9,169.95H100.7" stroke="#0000ff" stroke-width="2.10" stroke-dasharray="5.85 1.5"/>
<path d="M81.9,196.70H100.7" stroke="#ff0000" stroke-width="2.10" stroke-dasharray="2.9 1.6 5.9 1.6"/>
<path d="M81.9,223.40H100.7" stroke="#000000" stroke-width="3.10" stroke-dasharray="3.6 1.0 6.4 1.0"/>
<path d="M81.9,250.30H100.7" stroke="#800080" stroke-width="2.20" stroke-dasharray="3.0 1.62"/>
</g>
<g font-size="13.6px" letter-spacing="1">
<text x="106.8 113.1" y="146.8" font-style="italic">eB</text>
<path d="M123.5,141.10h7.9M123.5,144.10h7.9" stroke="#000" stroke-width="1.05" fill="none"/>
<text x="134.3" y="146.8">0.050</text>
<text x="174.2 185.6 193.2" y="146.8">GeV</text>
<text x="204.3" y="141.4" font-size="10px" letter-spacing="0">2</text>
<text x="106.8 113.1" y="173.8" font-style="italic">eB</text>
<path d="M123.5,168.10h7.9M123.5,171.10h7.9" stroke="#000" stroke-width="1.05" fill="none"/>
<text x="134.3" y="173.8">0.075</text>
<text x="174.2 185.6 193.2" y="173.8">GeV</text>
<text x="204.3" y="168.4" font-size="10px" letter-spacing="0">2</text>
<text x="106.8 113.1" y="200.6" font-style="italic">eB</text>
<path d="M123.5,194.85h7.9M123.5,197.85h7.9" stroke="#000" stroke-width="1.05" fill="none"/>
<text x="134.3" y="200.6">0.100</text>
<text x="174.2 185.6 193.2" y="200.6">GeV</text>
<text x="204.3" y="195.2" font-size="10px" letter-spacing="0">2</text>
<text x="106.8 113.1" y="227.3" font-style="italic">eB</text>
<path d="M123.5,221.55h7.9M123.5,224.55h7.9" stroke="#000" stroke-width="1.05" fill="none"/>
<text x="134.3" y="227.3">0.200</text>
<text x="174.2 185.6 193.2" y="227.3">GeV</text>
<text x="204.3" y="221.9" font-size="10px" letter-spacing="0">2</text>
<text x="106.8 113.1" y="254.2" font-style="italic">eB</text>
<path d="M123.5,248.45h7.9M123.5,251.45h7.9" stroke="#000" stroke-width="1.05" fill="none"/>
<text x="134.3" y="254.2">0.300</text>
<text x="174.2 185.6 193.2" y="254.2">GeV</text>
<text x="204.3" y="248.8" font-size="10px" letter-spacing="0">2</text>
</g>
</svg></body></html>
